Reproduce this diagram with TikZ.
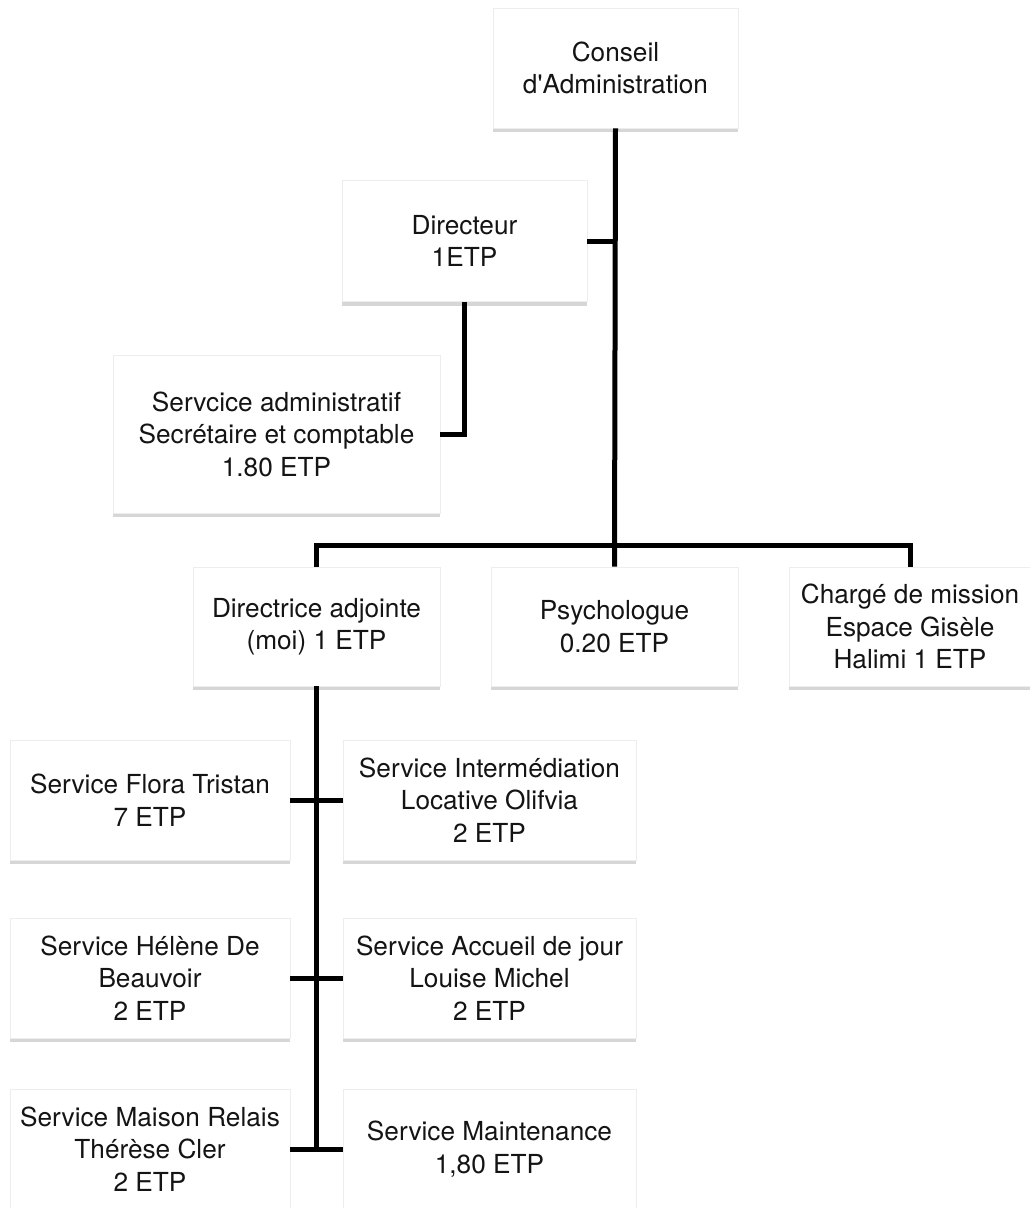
\documentclass[tikz,border=0pt]{standalone}
\usepackage{fontspec}
\setmainfont{TeX Gyre Heros}[Ligatures=TeXOff]
\usetikzlibrary{shadows}
\begin{document}
\begin{tikzpicture}[x=1pt,y=-1pt,
  box/.style={rectangle, fill=white, draw=black!7, line width=0.6pt, align=center, inner sep=0pt,
    font=\fontsize{26.2}{32.5}\selectfont, text=black!92,
    drop shadow={shadow xshift=0pt, shadow yshift=-4pt, fill=black!35, opacity=0.45}},
  conn/.style={line width=5pt, black, line join=miter}]
\useasboundingbox (0,0) rectangle (1029,1208);
\fill[white] (0,0) rectangle (1029,1208);

\node[box, minimum width=245, minimum height=120] (ca) at (615.5,68) {Conseil\\d'Administration};
\node[box, minimum width=245, minimum height=121] (dir) at (464.5,241) {Directeur\\1ETP};
\node[box, minimum width=327, minimum height=158] (adm) at (276.5,434) {Servcice administratif\\Secrétaire et comptable\\1.80 ETP};
\node[box, minimum width=247, minimum height=119] (da) at (316.5,626.5) {Directrice adjointe\\(moi) 1 ETP};
\node[box, minimum width=247, minimum height=119] (psy) at (614.5,626.5) {Psychologue\\0.20 ETP};
\node[box, minimum width=242, minimum height=119] (cm) at (910,626.5) {Chargé de mission\\Espace Gisèle\\Halimi 1 ETP};
\node[box, minimum width=280, minimum height=120] (ft) at (150,800) {Service Flora Tristan\\7 ETP};
\node[box, minimum width=293, minimum height=120] (im) at (489.5,800) {Service Intermédiation\\Locative Olifvia\\2 ETP};
\node[box, minimum width=280, minimum height=120] (hb) at (150,978) {Service Hélène De\\Beauvoir\\2 ETP};
\node[box, minimum width=293, minimum height=120] (aj) at (489.5,978) {Service Accueil de jour\\Louise Michel\\2 ETP};
\node[box, minimum width=280, minimum height=120] (mr) at (150,1149) {Service Maison Relais\\Thérèse Cler\\2 ETP};
\node[box, minimum width=293, minimum height=120] (mt) at (489.5,1149) {Service Maintenance\\1,80 ETP};

\coordinate (bar) at (615,545);
\draw[conn] (ca.south) -- (psy.north);
\draw[conn] (dir.east) -- (dir.east -| ca.south);
\draw[conn] (dir.south) |- (adm.east);
\draw[conn] (da.north) -- (da.north |- bar) -- (cm.north |- bar) -- (cm.north);
\draw[conn] (da.south) -- (da.south |- mr.east);
\draw[conn] (ft.east) -- (im.west);
\draw[conn] (hb.east) -- (aj.west);
\draw[conn] (mr.east) -- (mt.west);
\end{tikzpicture}
\end{document}
